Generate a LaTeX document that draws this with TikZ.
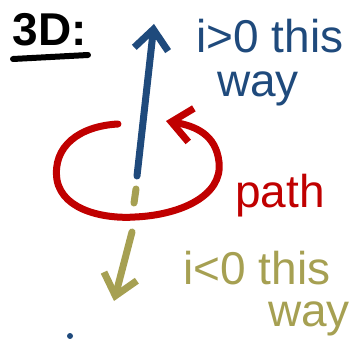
\documentclass[tikz,border=0pt]{standalone}
\usepackage{fontspec}
\setmainfont{Liberation Sans}
\usepackage{xcolor}
\definecolor{InkBlue}{HTML}{1F4A7C}
\definecolor{InkRed}{HTML}{C00000}
\definecolor{InkOlive}{HTML}{A6A052}
\usetikzlibrary{arrows.meta, positioning}

\begin{document}
\begin{tikzpicture}[x=1pt, y=-1pt, node distance=2pt,
    pen/.style={line width=7pt, line cap=round, line join=round},
    barb/.style={-{Straight Barb[length=20pt, width=34pt, line width=7pt]}},
    scrawl/.style={font=\fontsize{46}{50}\selectfont, inner sep=0pt}]
    \useasboundingbox (0,0) rectangle (356,339);

    % Title
    \node (title) [scrawl, font=\fontsize{46}{50}\selectfont\bfseries] at (50,30) {3D:};
    \draw[pen, line width=6pt] (13,59) -- (88,55);

    % Axis: positive direction
    \coordinate (upfoot) at (137,176);
    \coordinate (uptip) at (154,24);
    \draw[pen, barb, InkBlue] (upfoot) -- (uptip);
    \node (pos) [scrawl, text=InkBlue] at (270,36) {i>0 this};
    \node (posway) [scrawl, text=InkBlue, below=18pt of pos, xshift=-12pt] {way};

    % The loop
    \coordinate (loopstart) at (118,124);
    \coordinate (loopend) at (166,121);
    \draw[pen, barb, InkRed] (loopstart) .. controls (80,126) and (52,146) .. (57,180)
        .. controls (63,212) and (108,219) .. (135,217)
        .. controls (180,215) and (223,196) .. (219,162)
        .. controls (216,135) and (196,126) .. (loopend);
    \node (path) [scrawl, text=InkRed] at (280,196) {path};

    % Axis: negative direction
    \coordinate (stub) at (136,189);
    \coordinate (stubend) at (134,203);
    \draw[pen, InkOlive] (stub) -- (stubend);
    \coordinate (downfoot) at (132,232);
    \coordinate (downtip) at (114,301);
    \draw[pen, barb, InkOlive] (downfoot) -- (downtip);
    \node (neg) [scrawl, text=InkOlive] at (257,268) {i<0 this};
    \node (negway) [scrawl, text=InkOlive, below=16pt of neg, xshift=52pt] {way};

    % stray mark
    \fill[InkBlue] (70,336) circle (3pt);
\end{tikzpicture}
\end{document}
